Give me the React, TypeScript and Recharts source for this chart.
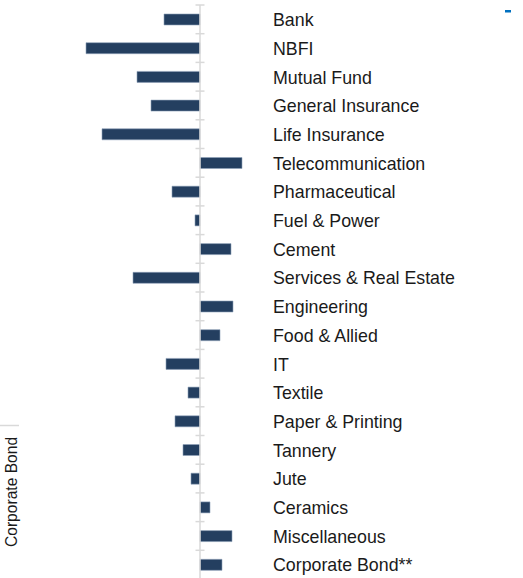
import * as React from "react";
import { BarChart, Bar, XAxis, YAxis, ReferenceLine } from "recharts";

// Sector-wise change (units arbitrary, ~10px per unit)
const sectors = [
  "Bank",
  "NBFI",
  "Mutual Fund",
  "General Insurance",
  "Life Insurance",
  "Telecommunication",
  "Pharmaceutical",
  "Fuel & Power",
  "Cement",
  "Services & Real Estate",
  "Engineering",
  "Food & Allied",
  "IT",
  "Textile",
  "Paper & Printing",
  "Tannery",
  "Jute",
  "Ceramics",
  "Miscellaneous",
  "Corporate Bond**",
];
const changes = [
  -3.6, -11.4, -6.3, -4.9, -9.8, 4.2, -2.8, -0.5, 3.1, -6.7, 3.3, 2.0, -3.4, -1.2, -2.5, -1.7, -0.9, 1.0, 3.2, 2.2,
];
const xDomain = [-18, 6];

const COR_BARRA = "#243F60";
const COR_BORDA = "#8fa1b8";
const COR_EIXO = "#d9d9d9";
const COR_TEXTO = "#1a1a1a";
const FONTE = "'Liberation Sans', Arial, sans-serif";

const dados = sectors.map((name, i) => ({ name, value: changes[i] }));

// axis line at zero, with small tick marks on the category boundaries
function EixoZero(props: any) {
  const { x1, y1, x2, y2 } = props;
  const n = sectors.length;
  const passo = (y2 - y1) / n;
  const marcas = [];
  for (let i = 0; i <= n; i++) {
    const y = y1 + i * passo;
    marcas.push(<line key={i} x1={x1 - 4.5} x2={x1 + 4.5} y1={y} y2={y} stroke={COR_EIXO} strokeWidth={1.5} />);
  }
  return (
    <g>
      <line x1={x1} y1={y1} x2={x2} y2={y2} stroke={COR_EIXO} strokeWidth={1.5} />
      {marcas}
    </g>
  );
}

function Rotulo(props: any) {
  const { x, y, payload } = props;
  return (
    <text x={x} y={y} dy="0.38em" textAnchor="start" fontSize={17.8} fontFamily={FONTE} fill={COR_TEXTO}>
      {payload.value}
    </text>
  );
}

export default function App() {
  return (
    <div
      style={{
        position: "absolute",
        top: 0,
        left: 0,
        width: 523,
        height: 578,
        overflow: "hidden",
        background: "#fff",
        fontFamily: FONTE,
      }}
    >
      <BarChart
        width={523}
        height={585}
        layout="vertical"
        data={dados}
        margin={{ top: 5, right: 0, bottom: 6, left: 20 }}
        barCategoryGap="60%"
      >
        <XAxis type="number" domain={xDomain} hide />
        <YAxis
          type="category"
          dataKey="name"
          orientation="right"
          width={263}
          axisLine={false}
          tickLine={false}
          tickSize={0}
          tickMargin={13}
          interval={0}
          tick={<Rotulo />}
        />
        <Bar
          dataKey="value"
          fill={COR_BARRA}
          stroke={COR_BORDA}
          strokeWidth={0.6}
          barSize={11}
          isAnimationActive={false}
        />
        <ReferenceLine x={0} shape={(p: any) => <EixoZero {...p} />} ifOverflow="extendDomain" />
      </BarChart>

      {/* leftovers from the neighbouring chart in the source page */}
      <svg width={523} height={578} style={{ position: "absolute", top: 0, left: 0, pointerEvents: "none" }}>
        <line x1={0} x2={19} y1={425.5} y2={425.5} stroke={COR_EIXO} strokeWidth={1.5} />
        <text
          x={0}
          y={0}
          transform="translate(16.5 547) rotate(-90) scale(1 1.05)"
          fontSize={15.6}
          fontFamily={FONTE}
          fill={COR_TEXTO}
        >
          Corporate Bond
        </text>
        <rect x={505} y={10} width={6} height={2.5} fill="#0070C0" />
      </svg>
    </div>
  );
}
